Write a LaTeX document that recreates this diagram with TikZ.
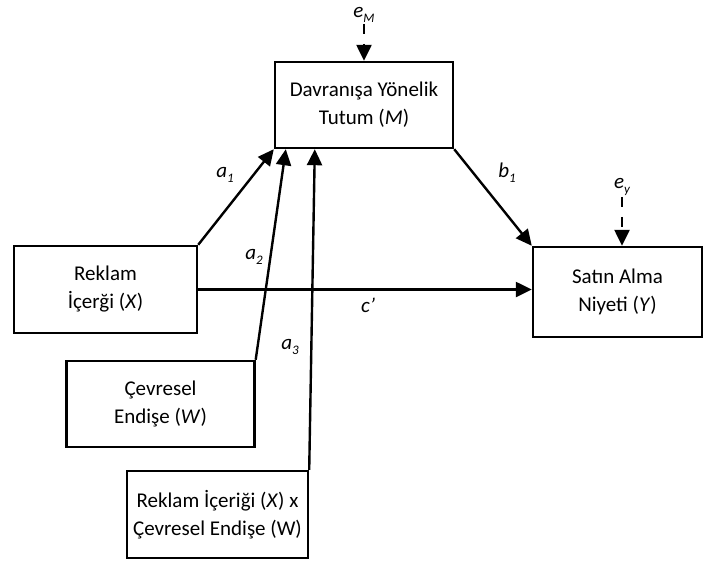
\documentclass[tikz,border=0pt]{standalone}
\usepackage{fontspec}
\setmainfont{Carlito}
\usetikzlibrary{arrows.meta}
\tikzset{
  varbox/.style={draw,line width=2.4pt,align=center,inner sep=0pt,
    font=\fontsize{21}{28}\selectfont},
  path/.style={line width=2.4pt,-{Triangle[length=16pt,width=15pt]}},
  errpath/.style={path,dash pattern=on 10pt off 10pt},
  coef/.style={font=\fontsize{21}{24}\selectfont\itshape,inner sep=1pt}
}
\newcommand{\sbs}[1]{\raisebox{-5pt}{\fontsize{13}{13}\selectfont\itshape #1}}
\begin{document}
\begin{tikzpicture}[x=1pt,y=-1pt]
    \useasboundingbox (0,0) rectangle (704,560);
    % variables
    \node[varbox,minimum width=178pt,minimum height=86pt] (M) at (364,105) {Davranışa Yönelik\\Tutum (\textit{M})};
    \node[varbox,minimum width=183pt,minimum height=87pt] (X) at (105.5,289.5) {Reklam\\İçerği (\textit{X})};
    \node[varbox,minimum width=169pt,minimum height=90pt] (Y) at (617.5,292) {Satın Alma\\Niyeti (\textit{Y})};
    \node[varbox,minimum width=188pt,minimum height=86pt] (W) at (160.5,404) {Çevresel\\Endişe (\textit{W})};
    \node[varbox,minimum width=181pt,minimum height=87pt] (XW) at (217.5,514.5) {Reklam İçeriği (\textit{X}) x\\Çevresel Endişe (W)};
    % error terms
    \node[coef] (eM) at (364,15) {e\sbs{M}};
    \node[coef] (ey) at (622,187) {e\sbs{y}};
    \draw[errpath] (eM) -- (M);
    \draw[errpath] (ey) -- (ey |- Y.north);
    % paths
    \draw[path] (X.north east) -- (M.south west);
    \node[coef] (a1) at (225,175) {a\sbs{1}};
    \draw[path] (W.north east) -- ([xshift=12pt]M.south west);
    \node[coef] (a2) at (254,257) {a\sbs{2}};
    \draw[path] (XW.north east) -- ([xshift=41pt]M.south west);
    \node[coef] (a3) at (290,347) {a\sbs{3}};
    \draw[path] (M.south east) -- (Y.north west);
    \node[coef] (b1) at (507,173) {b\sbs{1}};
    \draw[path] (X.east) -- (X.east -| Y.west);
    \node[coef] (c) at (368,305) {c’};
\end{tikzpicture}
\end{document}
